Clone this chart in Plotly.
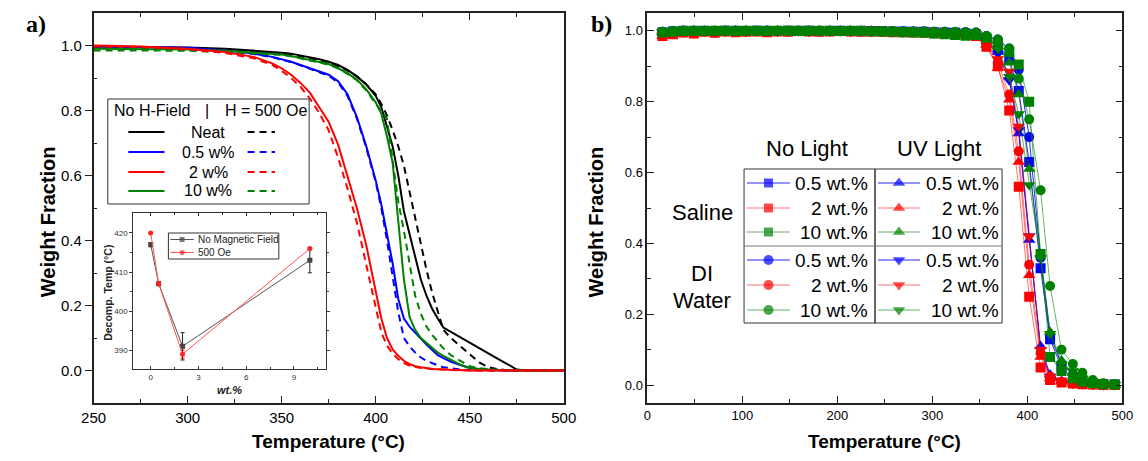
import plotly.graph_objects as go

W, H = 1148, 461
SANS = "Arial, 'Liberation Sans', sans-serif"
SERIF = "'Times New Roman', 'Liberation Serif', serif"

# ---------------- Panel a: TGA curves ----------------
T_A = [250, 275, 300, 320, 335, 345, 350, 355, 360, 365,
       370, 375, 380, 385, 390, 395, 400, 403, 406, 409,
       412, 415, 418, 421, 424, 427, 430, 433, 436, 440,
       445, 450, 455, 460, 465, 470, 475, 480, 490, 500]

NEAT_NOFIELD = [.997, .996, .994, .99, .985, .981, .978, .975, .97, .965,
                .958, .95, .94, .925, .905, .88, .845, .81, .75, .69,
                .60, .49, .42, .35, .28, .23, .19, .16, .132, .119,
                .102, .086, .069, .053, .036, .02, .003, 0, 0, 0]
NEAT_500 = [.995, .994, .992, .988, .983, .979, .976, .972, .967, .962,
            .955, .947, .937, .923, .905, .88, .85, .82, .785, .74,
            .69, .63, .55, .465, .39, .31, .24, .18, .125, .10,
            .075, .05, .025, .01, .004, .001, 0, 0, 0, 0]
P05_NOFIELD = [.998, .996, .993, .985, .975, .965, .958, .95, .94, .93,
               .92, .91, .89, .85, .78, .69, .585, .51, .42, .33,
               .22, .16, .135, .118, .098, .08, .063, .047, .038, .027,
               .017, .008, .004, .002, .001, 0, 0, 0, 0, 0]
P05_500 = [.997, .995, .992, .984, .974, .964, .957, .949, .939, .929,
           .918, .907, .886, .845, .775, .685, .58, .50, .40, .29,
           .18, .10, .075, .055, .04, .03, .022, .016, .01, .006,
           .003, .001, 0, 0, 0, 0, 0, 0, 0, 0]
P2_NOFIELD = [1.0, .997, .99, .98, .965, .945, .93, .91, .885, .855,
              .81, .765, .695, .595, .50, .385, .24, .16, .10, .065,
              .045, .03, .02, .013, .01, .007, .005, .004, .003, .002,
              .001, 0, 0, 0, 0, 0, 0, 0, 0, 0]
P2_500 = [.997, .995, .988, .977, .961, .94, .922, .90, .873, .837,
          .792, .739, .655, .56, .455, .325, .187, .117, .077, .052,
          .035, .023, .015, .011, .008, .006, .0045, .0035, .0025, .0015,
          .0005, 0, 0, 0, 0, 0, 0, 0, 0, 0]
P10_NOFIELD = [.99, .99, .988, .984, .979, .975, .972, .968, .962, .956,
               .95, .943, .93, .915, .895, .865, .825, .79, .72, .64,
               .46, .28, .165, .125, .10, .085, .07, .055, .045, .032,
               .018, .008, .004, .002, .001, 0, 0, 0, 0, 0]
P10_500 = [.985, .985, .984, .98, .976, .973, .971, .967, .961, .955,
           .948, .941, .93, .913, .893, .862, .82, .80, .775, .64,
           .52, .43, .33, .23, .175, .135, .11, .09, .068, .047,
           .03, .013, .007, .004, .002, .001, 0, 0, 0, 0]

LEG_A_LABELS = ["Neat", "0.5 w%", "2 w%", "10 w%"]

# Inset: decomposition temperature
WT = [0, 0.5, 2, 10]
TD_NOFIELD = [417, 407, 391, 413]
ERR_NOFIELD = [0.5, 0.5, 3.5, 3.2]
TD_500 = [420, 407, 389, 416]
ERR_500 = [0, 0, 1.0, 0.3]

# ---------------- Panel b: markers ----------------
T_B = [16, 27, 38, 49, 60, 71, 82, 93, 104, 115,
       126, 137, 148, 159, 170, 181, 192, 203, 214, 225,
       236, 247, 258, 269, 280, 291, 302, 313, 324, 335,
       346, 357, 369, 381, 391, 402, 414, 424, 436, 448,
       458, 469, 480, 492]

SAL_05_NL = [.995, .998, 1.0, .999, 1.0, .999, 1.0, 1.0, .999, 1.0,
             1.0, .999, 1.0, 1.0, 1.0, .999, 1.0, 1.0, .999, 1.0,
             .999, .999, .998, .998, .997, .997, .996, .995, .994, .992,
             .99, .975, .955, .92, .83, .63, .33, .13, .05, .02,
             .01, .005, .003, .002]
SAL_2_NL = [.985, .99, .995, .992, .997, .994, .998, .996, .997, .998,
            .996, .998, .997, .999, .998, .997, .998, .999, .998, .997,
            .998, .997, .996, .996, .995, .994, .993, .992, .99, .988,
            .985, .955, .90, .775, .56, .25, .05, .015, .008, .005,
            .003, .002, .001, .001]
SAL_10_NL = [.995, .997, .999, 1.0, .999, 1.0, 1.0, .999, 1.0, 1.0,
             .999, 1.0, 1.0, .999, 1.0, 1.0, .999, .999, 1.0, .999,
             .998, .998, .997, .996, .995, .994, .992, .99, .988, .986,
             .988, .98, .96, .94, .905, .80, .37, .08, .04, .02,
             .01, .006, .003, .002]
DI_05_NL = [.997, .999, 1.0, 1.0, .999, 1.0, 1.0, 1.0, .999, 1.0,
            1.0, 1.0, .999, 1.0, 1.0, 1.0, .999, 1.0, 1.0, .999,
            1.0, .999, .999, .998, .998, .998, .997, .997, .996, .996,
            .995, .985, .975, .95, .89, .70, .36, .14, .06, .03,
            .015, .008, .004, .002]
DI_2_NL = [.988, .993, .996, .994, .998, .995, .998, .997, .998, .999,
           .997, .998, .998, .999, .998, .998, .999, .999, .998, .998,
           .998, .997, .997, .996, .996, .995, .994, .993, .992, .99,
           .985, .96, .91, .82, .66, .34, .09, .025, .01, .005,
           .003, .002, .001, .001]
DI_10_NL = [.997, .999, 1.0, 1.0, 1.0, .999, 1.0, 1.0, 1.0, .999,
            1.0, 1.0, 1.0, 1.0, .999, 1.0, 1.0, 1.0, .999, 1.0,
            .999, .999, .999, .998, .998, .998, .997, .997, .997, .996,
            .995, .985, .975, .95, .865, .75, .55, .28, .10, .06,
            .035, .015, .006, .002]
SAL_05_UV = [.996, .998, .999, 1.0, .999, 1.0, .999, 1.0, 1.0, .999,
             1.0, 1.0, .999, 1.0, 1.0, .999, 1.0, .999, 1.0, .999,
             .999, .998, .998, .997, .997, .996, .995, .995, .994, .993,
             .99, .975, .94, .87, .71, .41, .11, .03, .012, .006,
             .004, .002, .001, .001]
SAL_2_UV = [.986, .991, .995, .993, .997, .995, .997, .996, .998, .998,
            .996, .998, .998, .998, .997, .998, .998, .999, .997, .998,
            .997, .997, .996, .995, .995, .994, .993, .992, .991, .989,
            .985, .96, .895, .805, .63, .31, .08, .02, .01, .005,
            .003, .002, .001, .001]
SAL_10_UV = [.996, .999, 1.0, .999, 1.0, 1.0, .999, 1.0, 1.0, 1.0,
             .999, 1.0, 1.0, 1.0, .999, 1.0, 1.0, .999, 1.0, .999,
             .999, .998, .998, .998, .997, .996, .996, .995, .994, .993,
             .99, .98, .955, .91, .82, .61, .37, .15, .07, .035,
             .015, .007, .003, .002]
DI_05_UV = [.996, .998, 1.0, .999, 1.0, .999, 1.0, .999, 1.0, 1.0,
            .999, 1.0, 1.0, .999, 1.0, 1.0, .999, 1.0, .999, .999,
            .999, .998, .998, .997, .997, .996, .995, .995, .994, .993,
            .99, .97, .935, .86, .72, .42, .10, .025, .012, .006,
            .004, .002, .001, .001]
DI_2_UV = [.987, .992, .995, .993, .997, .995, .997, .997, .998, .998,
           .997, .998, .998, .999, .997, .998, .998, .998, .997, .998,
           .997, .997, .996, .996, .995, .994, .993, .992, .991, .989,
           .985, .965, .92, .885, .73, .42, .10, .02, .01, .005,
           .003, .002, .001, .001]
DI_10_UV = [.996, .998, 1.0, 1.0, .999, 1.0, 1.0, 1.0, .999, 1.0,
            1.0, .999, 1.0, 1.0, 1.0, .999, 1.0, 1.0, .999, .999,
            .999, .998, .998, .998, .997, .997, .996, .995, .995, .994,
            .99, .98, .95, .87, .765, .565, .36, .145, .06, .04,
            .02, .01, .004, .002]

LEG_B_LABELS = ["0.5 wt.%", "2 wt.%", "10 wt.%"]

# ---------------- helpers (pixel -> paper) ----------------
def fx(px):
    return px / W

def fy(py):
    return 1 - py / H

BLACK = "#000000"
BLUE = "#0000ff"
RED = "#ff0000"
GREEN = "#008000"
LINE_RED = "rgba(255,0,0,0.55)"
LINE_GREEN = "rgba(0,128,0,0.6)"
LINE_BLUE = "rgba(0,0,255,0.85)"
DASH = "7px,5px"

fig = go.Figure()

# ----- Panel a curves -----
series_a = [
    (NEAT_NOFIELD, BLACK, "solid"), (NEAT_500, BLACK, DASH),
    (P05_NOFIELD, BLUE, "solid"), (P05_500, BLUE, DASH),
    (P10_NOFIELD, GREEN, "solid"), (P10_500, GREEN, DASH),
    (P2_NOFIELD, RED, "solid"), (P2_500, RED, DASH),
]
for ys, col, dash in series_a:
    fig.add_trace(go.Scatter(x=T_A, y=ys, mode="lines", xaxis="x", yaxis="y",
                             line=dict(color=col, width=2, dash=dash),
                             showlegend=False, hoverinfo="skip"))

# ----- Inset -----
fig.add_trace(go.Scatter(x=WT, y=TD_NOFIELD, mode="lines+markers", xaxis="x3", yaxis="y3",
                         line=dict(color="#555555", width=1),
                         marker=dict(symbol="square", size=5, color="#444444"),
                         error_y=dict(type="data", array=ERR_NOFIELD, color="#222222", thickness=1, width=2),
                         showlegend=False, hoverinfo="skip"))
fig.add_trace(go.Scatter(x=WT, y=TD_500, mode="lines+markers", xaxis="x3", yaxis="y3",
                         line=dict(color="#ff5555", width=1),
                         marker=dict(symbol="circle", size=5, color="#ff2020"),
                         error_y=dict(type="data", array=ERR_500, color="#cc0000", thickness=1, width=2),
                         showlegend=False, hoverinfo="skip"))

# ----- Panel b series -----
SQ, CI, TR = 10, 10, 11
series_b = [
    (DI_05_NL, BLUE, LINE_BLUE, "circle", CI), (SAL_05_UV, BLUE, LINE_BLUE, "triangle-up", TR),
    (DI_05_UV, BLUE, LINE_BLUE, "triangle-down", TR), (SAL_05_NL, BLUE, LINE_BLUE, "square", SQ),
    (DI_2_NL, RED, LINE_RED, "circle", CI), (SAL_2_UV, RED, LINE_RED, "triangle-up", TR),
    (DI_2_UV, RED, LINE_RED, "triangle-down", TR), (SAL_2_NL, RED, LINE_RED, "square", SQ),
    (DI_10_NL, GREEN, LINE_GREEN, "circle", CI), (SAL_10_UV, GREEN, LINE_GREEN, "triangle-up", TR),
    (DI_10_UV, GREEN, LINE_GREEN, "triangle-down", TR), (SAL_10_NL, GREEN, LINE_GREEN, "square", SQ),
]
for ys, mcol, lcol, sym, sz in series_b:
    fig.add_trace(go.Scatter(x=T_B, y=ys, mode="lines+markers", xaxis="x2", yaxis="y2",
                             line=dict(color=lcol, width=1),
                             marker=dict(symbol=sym, size=sz, color=mcol, line=dict(width=0)),
                             showlegend=False, hoverinfo="skip"))

# ----- Legend graphics on a pixel-coordinate helper axis -----
def leg_sample(x0, x1, y, col, dash="solid", width=2, sym=None, msize=0, mcol=None):
    xs = [x0, (x0 + x1) / 2, x1]
    fig.add_trace(go.Scatter(x=xs, y=[y, y, y], mode="lines+markers" if sym else "lines",
                             xaxis="x4", yaxis="y4",
                             line=dict(color=col, width=width, dash=dash),
                             marker=dict(symbol=sym or "circle", size=[0, msize, 0], color=mcol or col,
                                         line=dict(width=0)),
                             showlegend=False, hoverinfo="skip"))

shapes = []
annos = []

def text(x, y, s, size, bold=False, xanchor="center", family=SANS, color="#000", italic=False, angle=0):
    t = s
    if bold:
        t = "<b>" + t + "</b>"
    if italic:
        t = "<i>" + t + "</i>"
    annos.append(dict(x=fx(x), y=fy(y), xref="paper", yref="paper", text=t, showarrow=False,
                      xanchor=xanchor, yanchor="middle", textangle=angle,
                      font=dict(size=size, family=family, color=color)))

def rect(x0, y0, x1, y1, col="#222", w=1):
    shapes.append(dict(type="rect", xref="paper", yref="paper", x0=fx(x0), x1=fx(x1), y0=fy(y1), y1=fy(y0),
                       line=dict(color=col, width=w), fillcolor="rgba(0,0,0,0)"))

def hline(x0, x1, y, col="#444", w=1):
    shapes.append(dict(type="line", xref="paper", yref="paper", x0=fx(x0), x1=fx(x1), y0=fy(y), y1=fy(y),
                       line=dict(color=col, width=w)))

# Panel a legend
rect(97, 99, 303, 204, "#333", 1)
text(101, 111, "No H-Field", 16, xanchor="left")
text(198, 111, "|", 16)
text(215, 111, "H = 500 Oe", 16, xanchor="left")
rows_a = [132, 152, 172, 191]
cols_a = [BLACK, BLUE, RED, GREEN]
for lab, yy, c in zip(LEG_A_LABELS, rows_a, cols_a):
    leg_sample(118, 155, yy, c, "solid", 2)
    leg_sample(240, 268, yy, c, DASH, 2)
    text(200, yy, lab, 16)

# Inset legend
rect(159, 233, 272, 259, "#333", 1)
leg_sample(161, 185, 239.5, "#555555", "solid", 1, "square", 5, "#444444")
leg_sample(161, 185, 252.5, "#ff5555", "solid", 1, "circle", 5, "#ff2020")
text(187, 239.5, "No Magnetic Field", 10, xanchor="left", color="#222")
text(187, 252.5, "500 Oe", 10, xanchor="left", color="#222")

# Panel b legend table
text(812, 148, "No Light", 22)
text(947, 148, "UV Light", 22)
rect(748, 169, 882, 323, "#333", 1)
rect(882, 169, 1012, 323, "#333", 1)
hline(748, 1012, 246, "#777", 1.2)
text(705, 212, "Saline", 22)
text(705, 273, "DI", 22)
text(705, 300, "Water", 22)
rows_b = [183, 208, 232, 260, 285, 310]
row_cols = [(BLUE, LINE_BLUE), (RED, LINE_RED), (GREEN, LINE_GREEN)] * 2
left_syms = ["square"] * 3 + ["circle"] * 3
right_syms = ["triangle-up"] * 3 + ["triangle-down"] * 3
labels_b = LEG_B_LABELS * 2
for i, yy in enumerate(rows_b):
    mc, lc = row_cols[i]
    leg_sample(751, 795, yy, lc, "solid", 1, left_syms[i], 10 if left_syms[i] == "circle" else 9, mc)
    leg_sample(885, 928, yy, lc, "solid", 1, right_syms[i], 11, mc)
    text(877, yy, labels_b[i], 19, xanchor="right")
    text(1011, yy, labels_b[i], 19, xanchor="right")

# Axis titles and panel labels
text(323, 441, "Temperature (°C)", 19, bold=True)
text(892, 441, "Temperature (°C)", 19, bold=True)
text(36, 222, "Weight Fraction", 20, bold=True, angle=-90)
text(596, 222, "Weight Fraction", 20, bold=True, angle=-90)
text(24, 24, "a)", 24, bold=True, family=SERIF)
text(602, 24, "b)", 24, bold=True, family=SERIF)
text(97, 293, "Decomp. Temp (°C)", 10.5, bold=True, angle=-90, color="#222")
text(222, 390, "wt.%", 11, bold=True, italic=True, color="#222")

FRAME = "#222222"
ax_common = dict(showgrid=False, zeroline=False, showline=True, linecolor=FRAME, linewidth=1.5,
                 ticklen=7, tickwidth=1.2, tickcolor=FRAME)

fig.update_layout(
    width=W, height=H, autosize=False,
    margin=dict(l=0, r=0, t=0, b=0),
    paper_bgcolor="white", plot_bgcolor="rgba(0,0,0,0)",
    showlegend=False,
    font=dict(family=SANS, color="#000"),
    xaxis=dict(domain=[fx(82.5), fx(563.5)], anchor="y", range=[250, 500], dtick=50, tick0=250,
               ticks="inside", mirror="ticks",
               minor=dict(dtick=25, ticks="inside", ticklen=4, tickcolor=FRAME, tickwidth=1.2),
               tickfont=dict(size=15, family=SANS), **ax_common),
    yaxis=dict(domain=[fy(403), fy(13)], anchor="x", range=[-0.1, 1.1], tickvals=[0, 0.2, 0.4, 0.6, 0.8, 1.0],
               tickformat=".1f", ticks="outside", mirror=True,
               minor=dict(tickvals=[0.1, 0.3, 0.5, 0.7, 0.9], ticks="inside", ticklen=4, tickcolor=FRAME, tickwidth=1.2),
               tickfont=dict(size=15, family=SANS), **ax_common),
    yaxis5=dict(overlaying="y", anchor="x", side="right", range=[-0.1, 1.1],
                tickvals=[0, 0.2, 0.4, 0.6, 0.8, 1.0], showticklabels=False, ticks="inside",
                ticklen=7, tickwidth=1.2, tickcolor=FRAME, showgrid=False, zeroline=False, showline=False,
                minor=dict(tickvals=[0.1, 0.3, 0.5, 0.7, 0.9], ticks="inside", ticklen=4, tickcolor=FRAME, tickwidth=1.2)),
    xaxis2=dict(domain=[fx(649), fx(1135)], anchor="y2", range=[0, 500], dtick=100, tick0=0,
                ticks="inside", mirror="ticks",
                minor=dict(dtick=50, ticks="inside", ticklen=4, tickcolor=FRAME, tickwidth=1.2),
                tickfont=dict(size=13, family=SANS), **ax_common),
    yaxis2=dict(domain=[fy(403), fy(13)], anchor="x2", range=[-0.05, 1.05], tickvals=[0, 0.2, 0.4, 0.6, 0.8, 1.0],
                tickformat=".1f", ticks="inside", mirror="ticks",
                minor=dict(tickvals=[0.1, 0.3, 0.5, 0.7, 0.9], ticks="inside", ticklen=4, tickcolor=FRAME, tickwidth=1.2),
                tickfont=dict(size=13, family=SANS), **ax_common),
    xaxis3=dict(domain=[fx(123), fx(320)], anchor="y3", range=[-1.1, 11], tickvals=[0, 3, 6, 9],
                ticks="inside", mirror="ticks", showgrid=False, zeroline=False, showline=True,
                linecolor="#333", linewidth=1, ticklen=3, tickwidth=1, tickcolor="#333",
                minor=dict(tickvals=[1.5, 4.5, 7.5, 10.5], ticks="inside", ticklen=2, tickcolor="#333"),
                tickfont=dict(size=8, family=SANS, color="#333")),
    yaxis3=dict(domain=[fy(369), fy(213)], anchor="x3", range=[385.2, 425.1], tickvals=[390, 400, 410, 420],
                ticks="outside", mirror="ticks", showgrid=False, zeroline=False, showline=True,
                linecolor="#333", linewidth=1, ticklen=3, tickwidth=1, tickcolor="#333",
                minor=dict(tickvals=[395, 405, 415], ticks="outside", ticklen=2, tickcolor="#333"),
                tickfont=dict(size=8, family=SANS, color="#333")),
    xaxis4=dict(domain=[0, 1], anchor="y4", range=[0, W], visible=False, fixedrange=True),
    yaxis4=dict(domain=[0, 1], anchor="x4", range=[H, 0], visible=False, fixedrange=True),
    shapes=shapes,
    annotations=annos,
)

fig.write_html("out.html")
